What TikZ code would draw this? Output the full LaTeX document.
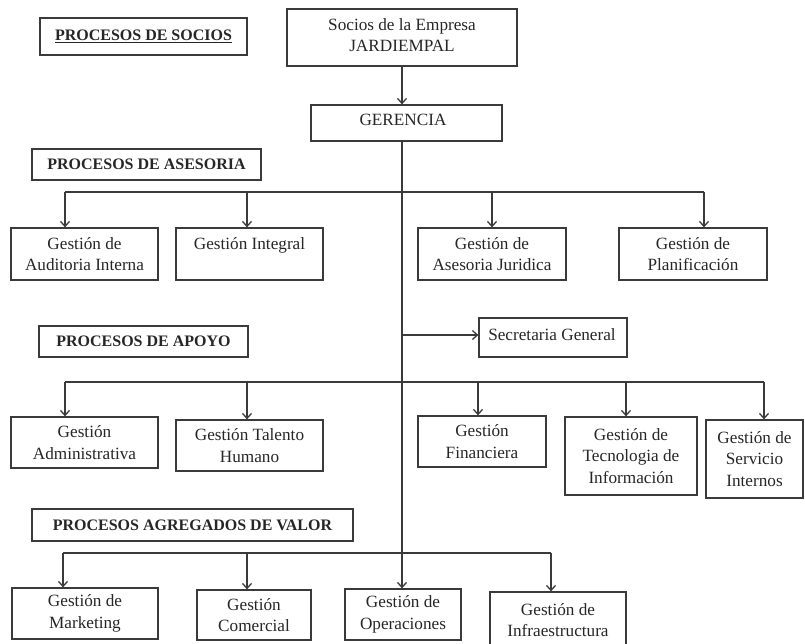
\documentclass[tikz,border=0pt]{standalone}
\usepackage{fontspec}
\setmainfont{Liberation Serif}
\usetikzlibrary{arrows.meta}
\definecolor{linegray}{HTML}{3A3A3A}
\definecolor{txtgray}{HTML}{262626}
\newcommand\bodyfnt{\fontsize{17.2}{21.5}\selectfont}
\newcommand\hdrfnt{\fontsize{16}{19}\selectfont\bfseries}
\tikzset{
  box/.style={draw=linegray, line width=1.3pt, inner sep=0pt, align=center, font=\bodyfnt, text=txtgray},
  hdr/.style={box, font=\hdrfnt},
  conn/.style={draw=linegray, line width=1.3pt},
  arr/.style={conn, -{Straight Barb[length=5pt,width=9pt]}},
}
\begin{document}
\begin{tikzpicture}[x=1pt,y=-1pt]
\clip (0,0) rectangle (805,643);
% headers
\node[hdr, minimum width=207, minimum height=37] (hsoc) at (143.5,36.5) {\underline{PROCESOS DE SOCIOS}};
\node[hdr, minimum width=229, minimum height=31] (hase) at (146.5,164.5) {PROCESOS DE ASESORIA};
\node[hdr, minimum width=209, minimum height=31] (hapo) at (143.5,341.5) {PROCESOS DE APOYO};
\node[hdr, minimum width=321, minimum height=32] (hagr) at (192.5,525) {PROCESOS AGREGADOS DE VALOR};
% top
\node[box, minimum width=230, minimum height=57] (soc) at (402,37.5) {};
\node[align=center, font=\bodyfnt, text=txtgray, inner sep=0pt] (soct) at (402,35) {Socios de la Empresa\\JARDIEMPAL};
\node[box, minimum width=191, minimum height=36] (ger) at (406.5,123) {};
\node[font=\bodyfnt, text=txtgray, inner sep=0pt] (gert) at (403,120) {GERENCIA};
% row 1
\node[box, minimum width=147, minimum height=52] (aud) at (84.5,254) {Gestión de\\Auditoria Interna};
\node[box, minimum width=147, minimum height=52] (integ) at (249.5,254) {Gestión Integral\\ };
\node[box, minimum width=148, minimum height=52] (jur) at (492,254) {Gestión de\\Asesoria Juridica};
\node[box, minimum width=148, minimum height=52] (plan) at (693,254) {Gestión de\\Planificación};
% secretaria
\node[box, minimum width=148, minimum height=39] (sec) at (553,337.5) {};
\node[font=\bodyfnt, text=txtgray, inner sep=0pt] (sect) at (552,335) {Secretaria General};
% row 2
\node[box, minimum width=147, minimum height=51] (adm) at (84.5,442.5) {Gestión\\Administrativa};
\node[box, minimum width=147, minimum height=51] (tal) at (249.5,445.5) {Gestión Talento\\Humano};
\node[box, minimum width=128, minimum height=51] (fin) at (482,441.5) {Gestión\\Financiera};
\node[box, minimum width=132, minimum height=78] (tec) at (631,456) {Gestión de\\Tecnologia de\\Información};
\node[box, minimum width=97, minimum height=78] (ser) at (754.5,459) {Gestión de\\Servicio\\Internos};
% row 3
\node[box, minimum width=146, minimum height=51] (mkt) at (85,613.5) {Gestión de\\Marketing};
\node[box, minimum width=114, minimum height=50] (com) at (254,615) {Gestión\\Comercial};
\node[box, minimum width=116, minimum height=51] (ope) at (403,614.5) {Gestión de\\Operaciones};
\node[box, minimum width=136, minimum height=56] (inf) at (558,620) {Gestión de\\Infraestructura};
% junction coordinates
\coordinate (a1) at (65,192); \coordinate (a2) at (247,192);
\coordinate (a3) at (492,192); \coordinate (a4) at (704,192);
\coordinate (s0) at (402,335);
\coordinate (b1) at (65,382); \coordinate (b2) at (247,382);
\coordinate (b3) at (478,382); \coordinate (b4) at (626,382);
\coordinate (b5) at (764,382);
\coordinate (c1) at (63,553); \coordinate (c2) at (247,553);
\coordinate (c3) at (402,553); \coordinate (c4) at (551,553);
% connectors
\draw[arr] (soc.south) -- (soc.south |- ger.north);
\draw[arr] (c3 |- ger.south) -- (c3 |- ope.north);
\draw[conn] (a1) -- (a4);
\foreach \c/\n in {a1/aud,a2/integ,a3/jur,a4/plan} \draw[arr] (\c) -- (\c |- \n.north);
\draw[arr] (s0) -- (s0 -| sec.west);
\draw[conn] (b1) -- (b5);
\foreach \c/\n in {b1/adm,b2/tal,b3/fin,b4/tec,b5/ser} \draw[arr] (\c) -- (\c |- \n.north);
\draw[conn] (c1) -- (c4);
\foreach \c/\n in {c1/mkt,c2/com,c4/inf} \draw[arr] (\c) -- (\c |- \n.north);
\end{tikzpicture}
\end{document}
